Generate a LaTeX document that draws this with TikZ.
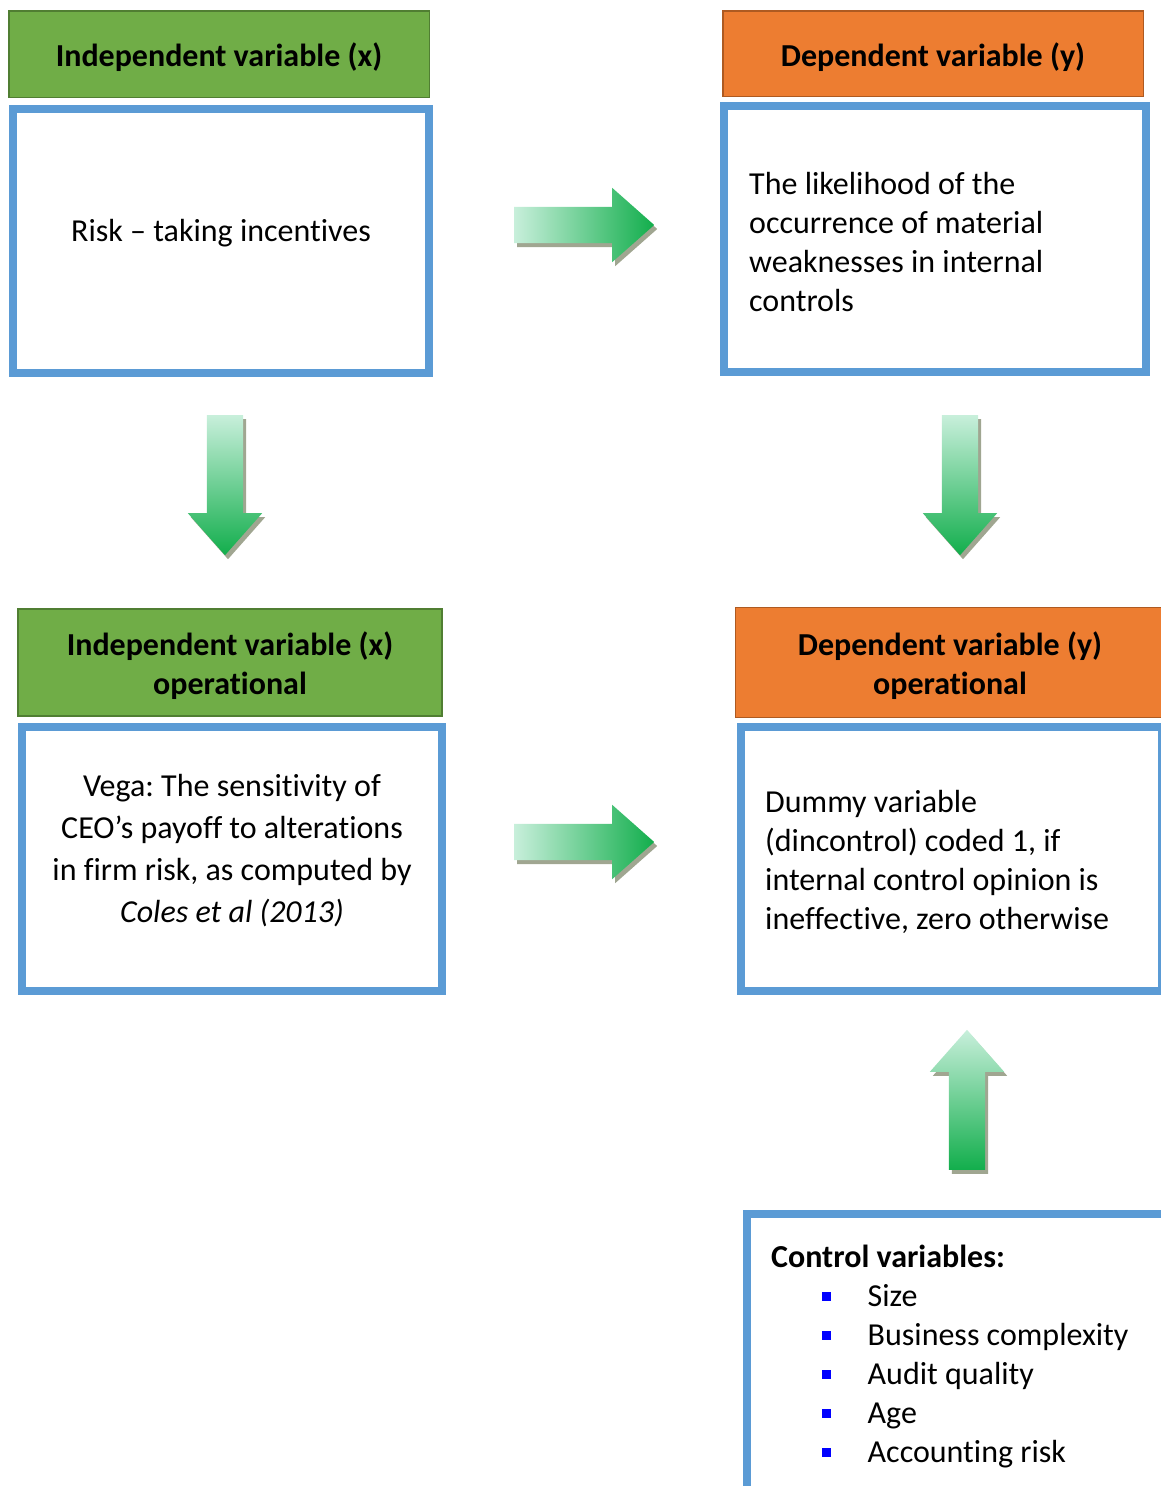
\documentclass[tikz,border=0pt]{standalone}
\usepackage{fontspec}
\setmainfont{Carlito}[Ligatures={TeX,NoCommon}]
\usetikzlibrary{positioning, shapes.arrows, shadows}
\frenchspacing

\definecolor{hdgreen}{HTML}{70AD47}
\definecolor{hdgreenline}{HTML}{507E32}
\definecolor{hdorange}{HTML}{ED7D31}
\definecolor{hdorangeline}{HTML}{AE5A21}
\definecolor{boxblue}{HTML}{5B9BD5}
\definecolor{arrowlight}{HTML}{C8EFDB}
\definecolor{arrowdark}{HTML}{12AE4C}
\definecolor{arrowshadow}{HTML}{A0A691}
\definecolor{bulletblue}{HTML}{0000FF}

\newcommand{\sqbullet}{\textcolor{bulletblue}{\rule[6pt]{8.5pt}{8.5pt}}}
\newcommand{\hdstrut}{\rule{0pt}{31pt}}

\begin{document}
\begin{tikzpicture}[x=1pt, y=-1pt,
  head/.style={draw, line width=1.5pt, rectangle, align=center, inner sep=0pt, font=\fontsize{32}{39}\selectfont\bfseries},
  greenhead/.style={head, fill=hdgreen, draw=hdgreenline},
  orangehead/.style={head, fill=hdorange, draw=hdorangeline},
  bluebox/.style={draw=boxblue, line width=8pt, rectangle, fill=white},
  boxtext/.style={inner sep=0pt, font=\fontsize{32}{39}\selectfont},
  blockarrow/.style={single arrow, draw=none, minimum width=74pt, minimum height=140pt, single arrow head extend=19pt, single arrow tip angle=83, anchor=tail, drop shadow={shadow xshift=3pt, shadow yshift=-4pt, fill=arrowshadow, opacity=1}},
  rarrow/.style={blockarrow, inner xsep=0pt, inner ysep=18pt, left color=arrowlight, right color=arrowdark},
  darrow/.style={blockarrow, inner xsep=18pt, inner ysep=0pt, shape border rotate=270, top color=arrowlight, bottom color=arrowdark},
  uarrow/.style={blockarrow, inner xsep=18pt, inner ysep=0pt, shape border rotate=90, top color=arrowlight, bottom color=arrowdark}]

\useasboundingbox (0,0) rectangle (1161,1486);

% Independent variable
\node[greenhead, minimum width=420.5pt, minimum height=86.5pt] (indephead) at (219,54) {\hdstrut Independent variable (x)};
\node[bluebox, minimum width=416pt, minimum height=264pt] (indepbox) at (221,241) {};
\node[boxtext, anchor=base] (indeptext) at (221,241) {Risk -- taking incentives};

% Dependent variable
\node[orangehead, minimum width=420.5pt, minimum height=85.5pt] (dephead) at (933,53.5) {\hdstrut Dependent variable (y)};
\node[bluebox, minimum width=422pt, minimum height=266pt] (depbox) at (935,239) {};
\node[boxtext, anchor=north west, align=left] (deptext) at (749,172) {The likelihood of the\\occurrence of material\\weaknesses in internal\\controls};

% Operational definitions
\node[greenhead, minimum width=424pt, minimum height=107pt] (indopthead) at (230,662.5) {\hdstrut Independent variable (x)\\operational};
\node[bluebox, minimum width=420pt, minimum height=264pt] (indoptbox) at (232,859) {};
\node[boxtext, anchor=north, align=center, font=\fontsize{32}{42}\selectfont] (indopttext) at (232,774) {Vega: The sensitivity of\\CEO’s payoff to alterations\\in firm risk, as computed by\\\textit{Coles et al (2013)}};

\node[orangehead, minimum width=429pt, minimum height=110pt] (depopthead) at (950,662.5) {\hdstrut Dependent variable (y)\\operational};
\node[bluebox, minimum width=421pt, minimum height=264pt] (depoptbox) at (951.5,859) {};
\node[boxtext, anchor=north west, align=left] (depopttext) at (765,790) {Dummy variable\\(dincontrol) coded 1, if\\internal control opinion is\\ineffective, zero otherwise};

% Control variables
\node[bluebox, minimum width=428pt, minimum height=296pt] (ctrlbox) at (961,1362) {};
\node[boxtext, anchor=north west, align=left] (ctrltext) at (771,1245) {\textbf{Control variables:}\\
  \hspace*{51pt}\sqbullet\hspace*{37pt}Size\\
  \hspace*{51pt}\sqbullet\hspace*{37pt}Business complexity\\
  \hspace*{51pt}\sqbullet\hspace*{37pt}Audit quality\\
  \hspace*{51pt}\sqbullet\hspace*{37pt}Age\\
  \hspace*{51pt}\sqbullet\hspace*{37pt}Accounting risk};

% Block arrows
\node[rarrow] (arrtop) at (514,225) {};
\node[rarrow] (arrbottom) at (514,842) {};
\node[darrow] (arrindep) at (225,415) {};
\node[darrow] (arrdep) at (960,415) {};
\node[uarrow] (arrctrl) at (967,1170) {};

\end{tikzpicture}
\end{document}
